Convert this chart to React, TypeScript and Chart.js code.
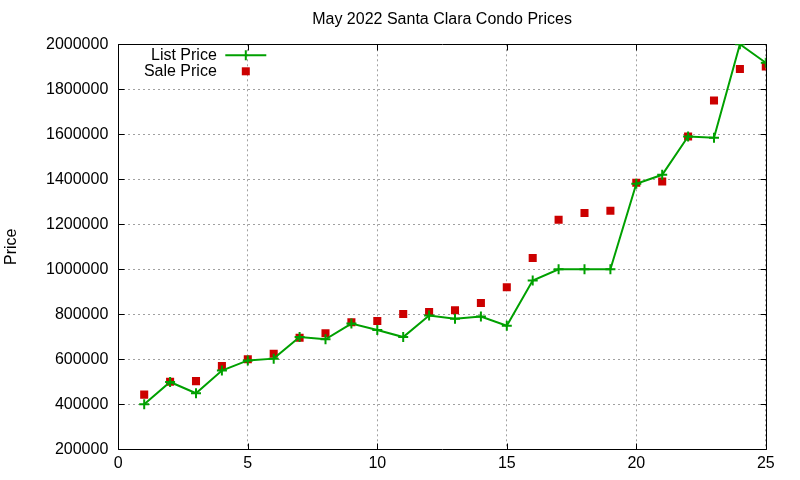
import React, { useEffect, useRef } from "react";
import { Chart, registerables } from "chart.js";

Chart.register(...registerables);

const TITLE = "May 2022 Santa Clara Condo Prices";
const Y_LABEL = "Price";
const SERIES_NAMES = ["List Price", "Sale Price"];
const X_VALUES = [1, 2, 3, 4, 5, 6, 7, 8, 9, 10, 11, 12, 13, 14, 15, 16, 17, 18, 19, 20, 21, 22, 23, 24, 25];
const LIST_PRICES = [
  400000, 499000, 449000, 550000, 595000, 603000, 699000, 689000, 759000, 730000,
  699000, 795000, 780000, 790000, 749000, 950000, 1000000, 1000000, 1000000, 1380000,
  1420000, 1590000, 1585000, 2000000, 1918000,
];
const SALE_PRICES = [
  443000, 500000, 503000, 570000, 600000, 625000, 696000, 716000, 765000, 770000,
  801000, 810000, 818000, 850000, 920000, 1050000, 1220000, 1250000, 1260000, 1385000,
  1390000, 1590000, 1750000, 1890000, 1902000,
];
const X_TICKS = [0, 5, 10, 15, 20, 25];
const Y_TICKS = [200000, 400000, 600000, 800000, 1000000, 1200000, 1400000, 1600000, 1800000, 2000000];

const GREEN = "rgb(0,160,0)";
const RED = "rgb(204,0,0)";
const FONT = "'Liberation Sans', Arial, sans-serif";

const titlePlugin = {
  id: "gnuTitle",
  afterDraw(chart: any) {
    const { ctx, chartArea: a } = chart;
    ctx.save();
    ctx.font = `16px ${FONT}`;
    ctx.fillStyle = "#000";
    ctx.textAlign = "center";
    ctx.textBaseline = "middle";
    ctx.fillText(TITLE, (a.left + a.right) / 2, 20);
    ctx.restore();
  },
};

const framePlugin = {
  id: "gnuFrame",
  beforeDatasetsDraw(chart: any) {
    const { ctx, chartArea: a, scales } = chart;
    const L = Math.round(a.left) + 0.5;
    const R = Math.round(a.right) + 0.5;
    const T = Math.round(a.top) + 0.5;
    const B = Math.round(a.bottom) + 0.5;
    ctx.save();
    ctx.strokeStyle = "#000";
    ctx.lineWidth = 1;
    ctx.setLineDash([]);
    ctx.beginPath();
    ctx.rect(L, T, R - L, B - T);
    const tl = 6;
    for (const v of X_TICKS) {
      const x = Math.round(scales.x.getPixelForValue(v)) + 0.5;
      ctx.moveTo(x, B);
      ctx.lineTo(x, B - tl);
      ctx.moveTo(x, T);
      ctx.lineTo(x, T + tl);
    }
    for (const v of Y_TICKS) {
      const y = Math.round(scales.y.getPixelForValue(v)) + 0.5;
      ctx.moveTo(L, y);
      ctx.lineTo(L + tl, y);
      ctx.moveTo(R, y);
      ctx.lineTo(R - tl, y);
    }
    ctx.stroke();
    ctx.restore();
  },
};

const keyPlugin = {
  id: "gnuKey",
  afterDatasetsDraw(chart: any) {
    const { ctx, chartArea: a } = chart;
    const textRight = a.left + 98.5;
    const sampleL = a.left + 107;
    const sampleR = a.left + 148;
    const sampleC = a.left + 127.5;
    const y1 = a.top + 11;
    const y2 = a.top + 27;
    ctx.save();
    ctx.font = `16px ${FONT}`;
    ctx.fillStyle = "#000";
    ctx.textAlign = "right";
    ctx.textBaseline = "middle";
    ctx.fillText(SERIES_NAMES[0], textRight, y1);
    ctx.fillText(SERIES_NAMES[1], textRight, y2);
    ctx.strokeStyle = GREEN;
    ctx.lineWidth = 2;
    ctx.beginPath();
    ctx.moveTo(sampleL, y1);
    ctx.lineTo(sampleR, y1);
    ctx.moveTo(sampleC, y1 - 5);
    ctx.lineTo(sampleC, y1 + 5);
    ctx.stroke();
    ctx.fillStyle = RED;
    ctx.fillRect(sampleC - 4, y2 - 4, 8, 8);
    ctx.restore();
  },
};

export default function App() {
  const ref = useRef<HTMLCanvasElement | null>(null);

  useEffect(() => {
    if (!ref.current) return;
    const chart = new Chart(ref.current, {
      type: "line",
      data: {
        datasets: [
          {
            label: SERIES_NAMES[0],
            data: X_VALUES.map((x, i) => ({ x, y: LIST_PRICES[i] })),
            borderColor: GREEN,
            backgroundColor: GREEN,
            borderWidth: 2,
            pointStyle: "cross",
            pointRadius: 5,
            pointBorderWidth: 2,
            pointBorderColor: GREEN,
            tension: 0,
            fill: false,
          },
          {
            label: SERIES_NAMES[1],
            data: X_VALUES.map((x, i) => ({ x, y: SALE_PRICES[i] })),
            showLine: false,
            borderColor: RED,
            backgroundColor: RED,
            pointStyle: "rect",
            pointRadius: 5.7,
            pointBorderWidth: 0,
            pointBackgroundColor: RED,
          },
        ],
      },
      options: {
        animation: false,
        responsive: false,
        devicePixelRatio: 1,
        layout: { padding: { left: 0, right: 34.2, top: 44.3, bottom: 0 } },
        plugins: {
          legend: { display: false },
          tooltip: { enabled: false },
          title: { display: false },
        },
        scales: {
          x: {
            type: "linear",
            min: 0,
            max: 25,
            afterBuildTicks: (s: any) => {
              s.ticks = X_TICKS.map((value) => ({ value }));
            },
            afterFit: (s: any) => {
              s.height = 30.7;
            },
            grid: { color: "#a0a0a0", lineWidth: 1, drawTicks: false },
            border: { display: false, dash: [2, 3] },
            ticks: {
              color: "#000",
              font: { family: FONT, size: 16 },
              padding: 5,
              maxRotation: 0,
              callback: (v: any) => String(v),
            },
          },
          y: {
            type: "linear",
            min: 200000,
            max: 2000000,
            afterBuildTicks: (s: any) => {
              s.ticks = Y_TICKS.map((value) => ({ value }));
            },
            afterFit: (s: any) => {
              s.width = 118.3;
            },
            grid: { color: "#a0a0a0", lineWidth: 1, drawTicks: false },
            border: { display: false, dash: [2, 3] },
            ticks: {
              color: "#000",
              font: { family: FONT, size: 16 },
              padding: 10,
              callback: (v: any) => String(v),
            },
            title: {
              display: true,
              text: Y_LABEL,
              color: "#000",
              font: { family: FONT, size: 16 },
              padding: { top: 2.4, bottom: 0 },
            },
          },
        },
      },
      plugins: [framePlugin, keyPlugin, titlePlugin],
    });
    return () => chart.destroy();
  }, []);

  return (
    <div style={{ position: "absolute", left: 0, top: 0, width: 800, height: 480, background: "#fff" }}>
      <canvas ref={ref} width={800} height={480} style={{ width: 800, height: 480, display: "block" }} />
    </div>
  );
}
